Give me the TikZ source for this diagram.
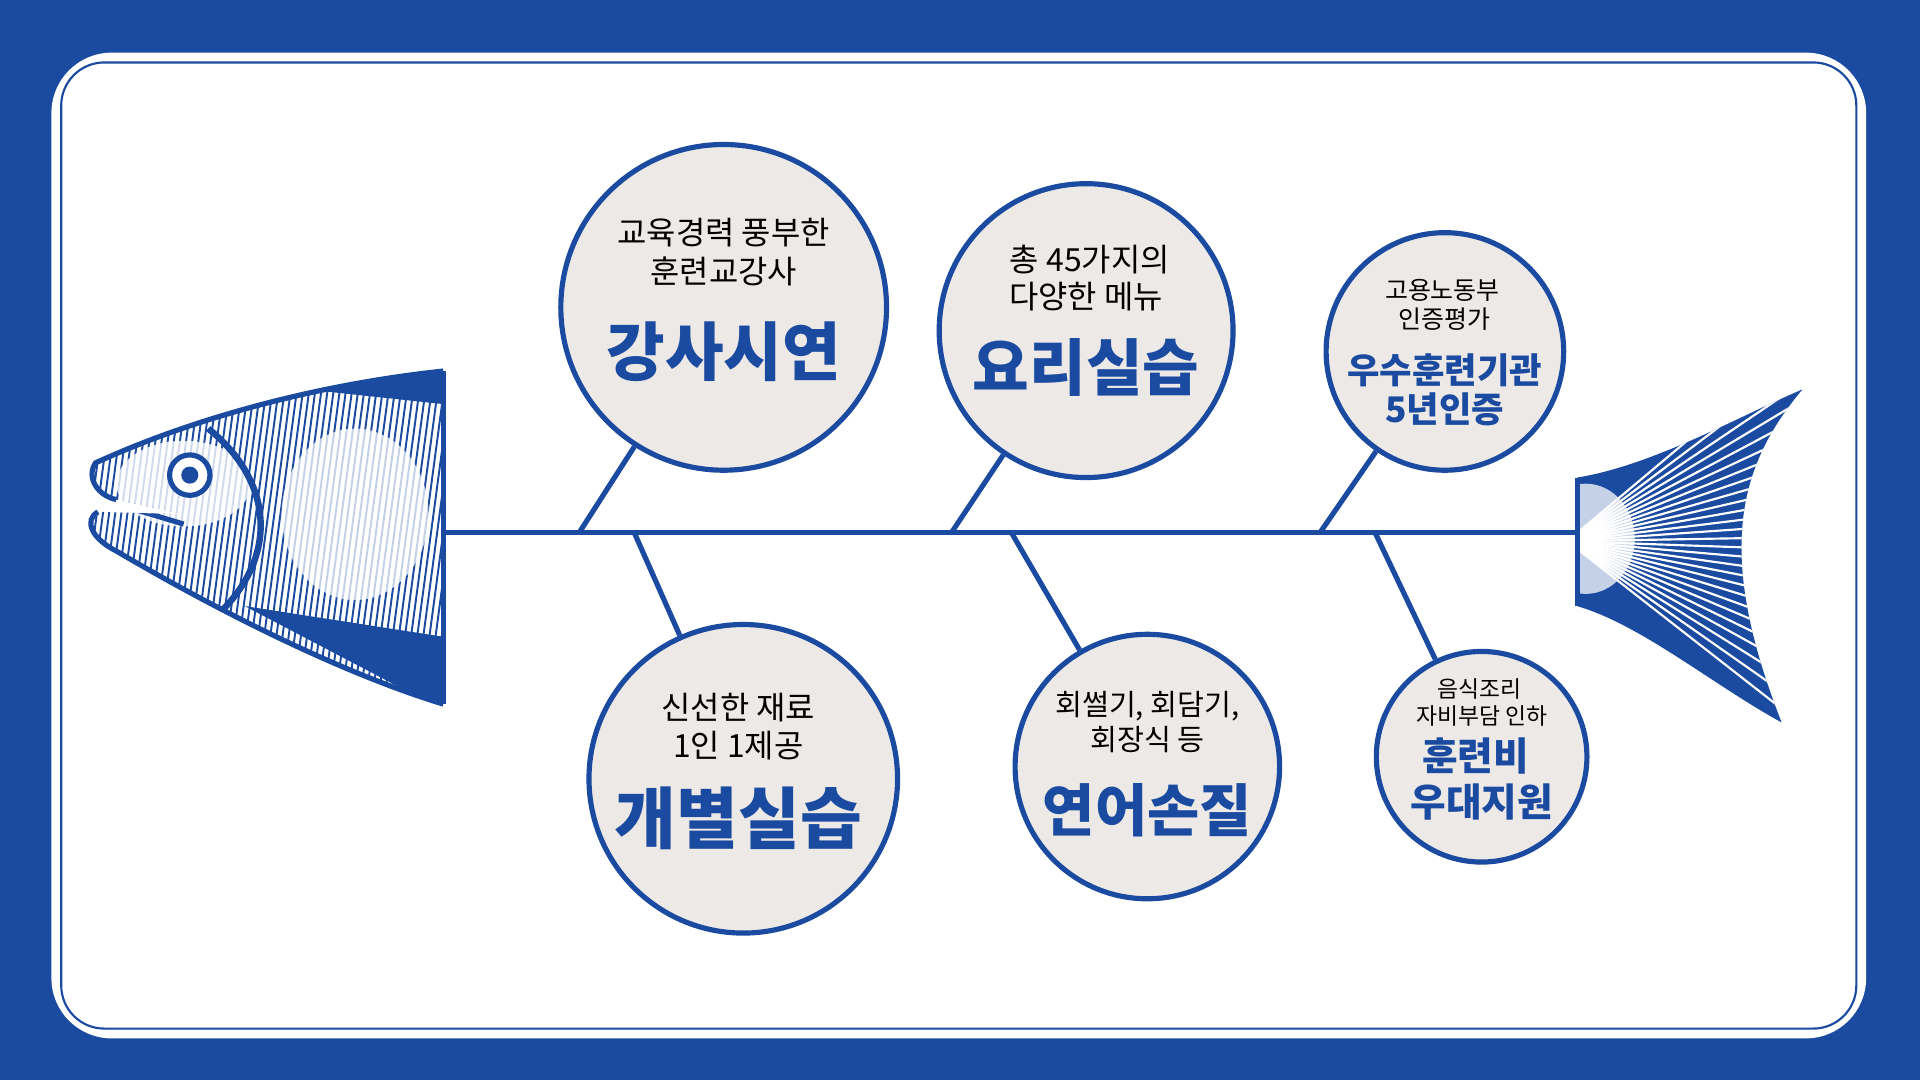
\documentclass[tikz,border=0pt]{standalone}
\usepackage{fontspec}
\setmainfont{Noto Sans CJK KR}
\begin{document}
\begin{tikzpicture}[x=0.1mm,y=-0.1mm]
\definecolor{fb}{HTML}{1B4BA0}
\definecolor{cf}{HTML}{EDE9E6}
\tikzset{bub/.style={circle,draw=fb,line width=1.2pt,fill=cf,inner sep=0pt},
 bone/.style={draw=fb,line width=1.2pt},
 sm/.style={font=\fontsize{#1}{#1}\selectfont,text=black,inner sep=0pt},
 ttl/.style={font=\fontsize{#1}{#1}\bfseries\selectfont,text=fb,inner sep=0pt}}
\useasboundingbox (0,0) rectangle (1568,882);
\fill[fb] (0,0) rectangle (1568,882);
\fill[white,rounded corners=14] (42,43) rectangle (1524,848);
\draw[fb,line width=0.5pt,rounded corners=10] (50,51) rectangle (1516,840);
% spine
\coordinate (s0) at (362,435); \coordinate (s1) at (1288,435);
\draw[bone] (s0) -- (s1);
% circles
\node[bub,minimum size=26.6mm] (c1) at (591,251) {};
\node[bub,minimum size=24mm] (c2) at (887,270) {};
\node[bub,minimum size=19.4mm] (c3) at (1180,287) {};
\node[bub,minimum size=25.2mm] (c4) at (607,636) {};
\node[bub,minimum size=21.6mm] (c5) at (937,626) {};
\node[bub,minimum size=17.2mm] (c6) at (1210,618) {};
\coordinate (j1) at (473,435); \coordinate (j2) at (777,435); \coordinate (j3) at (1078,435);
\coordinate (j4) at (518,435); \coordinate (j5) at (826,435); \coordinate (j6) at (1123,435);
\draw[bone] (j1) -- (c1); \draw[bone] (j2) -- (c2); \draw[bone] (j3) -- (c3);
\draw[bone] (j4) -- (c4); \draw[bone] (j5) -- (c5); \draw[bone] (j6) -- (c6);
% texts
\node[sm=7.4] (t1a) at (591,190) {교육경력 풍부한};
\node[sm=7.4] (t1b) at (591,222) {훈련교강사};
\node[ttl=14.8] (t1c) at (591,287) {강사시연};
\node[sm=7.4] (t2a) at (890,212) {총 45가지의};
\node[sm=7.4] (t2b) at (887,242) {다양한 메뉴};
\node[ttl=14.3] (t2c) at (887,300) {요리실습};
\node[sm=5.8] (t3a) at (1178,237) {고용노동부};
\node[sm=5.8] (t3b) at (1180,261) {인증평가};
\node[ttl=8.2] (t3c) at (1180,302) {우수훈련기관};
\node[ttl=8.2] (t3d) at (1180,334) {5년인증};
\node[sm=7.4] (t4a) at (603,578) {신선한 재료};
\node[sm=7.4] (t4b) at (603,609) {1인 1제공};
\node[ttl=15.6] (t4c) at (603,668) {개별실습};
\node[sm=6.8] (t5a) at (937,577) {회썰기, 회담기,};
\node[sm=6.8] (t5b) at (937,604) {회장식 등};
\node[ttl=13.2] (t5c) at (937,662) {연어손질};
\node[sm=5.3] (t6a) at (1208,563) {음식조리};
\node[sm=5.3] (t6b) at (1210,585) {자비부담 인하};
\node[ttl=9] (t6c) at (1205,617) {훈련비};
\node[ttl=9] (t6d) at (1210,655) {우대지원};
% fish head
\begin{scope}
\path[clip] (362,303) .. controls (250,315) and (150,345) .. (78,378) .. controls (70,390) and (80,405) .. (95,408)
 -- (150,420) -- (80,418) .. controls (68,425) and (75,440) .. (95,450) .. controls (180,500) and (280,550) .. (362,575) -- cycle;
\fill[white] (0,280) rectangle (370,600);
\foreach \i in {0,...,70} {\draw[fb,line width=0.45pt] (60+\i*5,300) -- (20+\i*5,600);}
\fill[white,opacity=0.8] (150,395) ellipse (55 and 35);
\fill[white,opacity=0.75] (290,420) ellipse (60 and 70);
\fill[fb] (362,300) -- (250,318) -- (362,330) -- cycle;
\fill[fb] (200,495) -- (362,580) -- (362,520) -- cycle;
\draw[fb,line width=1.5pt] (170,350) .. controls (220,390) and (230,450) .. (180,500);
\draw[fb,line width=1.2pt] (90,410) -- (150,428);
\end{scope}
\draw[fb,line width=1.2pt] (362,303) .. controls (250,315) and (150,345) .. (78,378) .. controls (70,390) and (80,405) .. (95,408);
\draw[fb,line width=1.2pt] (80,418) .. controls (68,425) and (75,440) .. (95,450) .. controls (180,500) and (280,550) .. (362,575);
\draw[fb,line width=1.2pt] (362,303) -- (362,575);
\node[circle,draw=fb,fill=white,line width=1.2pt,minimum size=3.3mm,inner sep=0pt] (eye) at (155,388) {};
\node[circle,fill=fb,minimum size=1.4mm,inner sep=0pt] (pup) at (155,388) {};
% tail
\begin{scope}
\path[clip] (1288,390) .. controls (1350,380) and (1420,340) .. (1472,318) .. controls (1420,380) and (1400,450) .. (1455,590)
 .. controls (1400,560) and (1340,510) .. (1288,495) -- cycle;
\fill[fb] (1280,300) rectangle (1480,600);
\foreach \a in {-40,-37,...,40} {\draw[white,line width=0.5pt] (1280,442) -- ++(\a:220);}
\fill[white,opacity=0.75] (1295,440) ellipse (40 and 45);
\end{scope}
\draw[fb,line width=1.2pt] (1288,390) -- (1288,495);
\end{tikzpicture}
\end{document}
